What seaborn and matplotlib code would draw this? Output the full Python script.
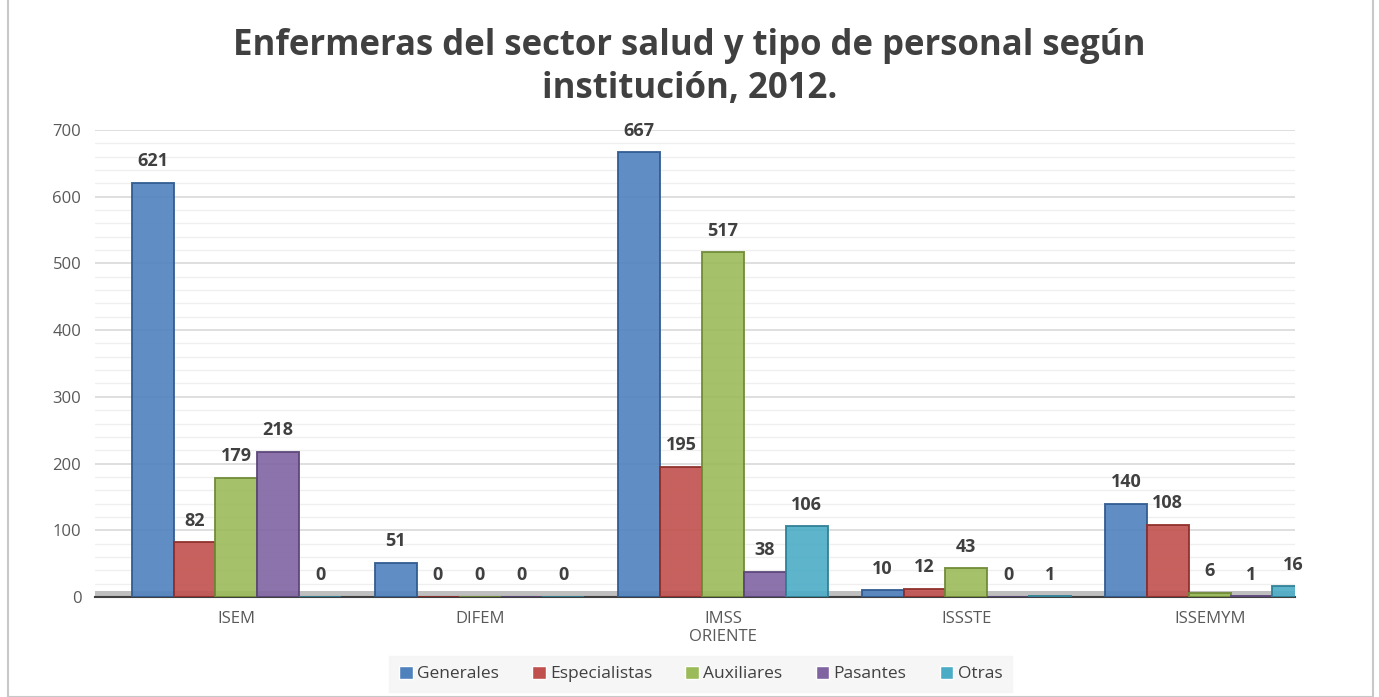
import matplotlib
matplotlib.use("Agg")
import matplotlib.pyplot as plt
import seaborn as sns
import pandas as pd
from matplotlib.patches import Rectangle

categories = ["ISEM", "DIFEM", "IMSS\nORIENTE", "ISSSTE", "ISSEMYM"]
series = ["Generales", "Especialistas", "Auxiliares", "Pasantes", "Otras"]
generales = [621, 51, 667, 10, 140]
especialistas = [82, 0, 195, 12, 108]
auxiliares = [179, 0, 517, 43, 6]
pasantes = [218, 0, 38, 0, 1]
otras = [0, 0, 106, 1, 16]
colors = ["#4F81BD", "#C0504D", "#9BBB59", "#8064A2", "#4BACC6"]
edges = ["#2F5A8F", "#8E2E2B", "#6F8A35", "#5A4578", "#2E7F95"]

values = [generales, especialistas, auxiliares, pasantes, otras]
rows = []
for s, vals in zip(series, values):
    for c, v in zip(categories, vals):
        rows.append({"Institución": c, "Tipo": s, "Valor": v})
df = pd.DataFrame(rows)

sns.set_theme(style="white")
plt.rcParams["font.family"] = ["Open Sans", "DejaVu Sans"]

fig = plt.figure(figsize=(13.79, 6.97), dpi=100)
fig.patch.set_facecolor("white")
ax = fig.add_axes([0.069, 0.1435, 0.870, 0.670])

ax.axhspan(0, 9, color="#bfbfbf", zorder=1, lw=0)

sns.barplot(data=df, x="Institución", y="Valor", hue="Tipo", order=categories,
            hue_order=series, palette=colors, width=0.86, ax=ax, legend=True,
            saturation=1, zorder=3)

for cont, ec in zip(ax.containers, edges):
    for bar in cont:
        bar.set_edgecolor(ec)
        bar.set_linewidth(1.4)
        bar.set_alpha(0.9)
    ax.bar_label(cont, labels=[f"{int(b.get_height())}" for b in cont], padding=9,
                 fontsize=13, fontweight="bold", color="#404040")

ax.set_ylim(0, 700)
ax.set_yticks(range(0, 701, 100))
ax.set_yticks(range(0, 701, 20), minor=True)
ax.grid(axis="y", which="major", color="#d9d9d9", lw=1.2, zorder=0)
ax.grid(axis="y", which="minor", color="#efefef", lw=0.9, zorder=0)
ax.set_axisbelow(True)
for sp in ["top", "right", "left"]:
    ax.spines[sp].set_visible(False)
ax.spines["bottom"].set_color("#404040")
ax.spines["bottom"].set_linewidth(1.5)
ax.tick_params(axis="both", length=0, labelsize=12, colors="#595959", pad=10)
ax.set_xlabel("")
ax.set_ylabel("")
ax.set_xlim(-0.58, 4.35)

leg = ax.legend(loc="lower center", bbox_to_anchor=(0.508, -0.005), bbox_transform=fig.transFigure,
                ncol=5, frameon=True, fontsize=12.5, handlelength=0.8, handleheight=0.8,
                handletextpad=0.25, columnspacing=1.9, borderpad=0.55, fancybox=False)
leg.get_frame().set_facecolor("#f4f4f4")
leg.get_frame().set_edgecolor("#f4f4f4")
for t in leg.get_texts():
    t.set_color("#404040")

fig.text(0.5, 0.903, "Enfermeras del sector salud y tipo de personal según\ninstitución, 2012.",
         ha="center", va="center", fontsize=25, fontweight="bold", color="#404040",
         linespacing=1.25)

fig.patches.append(Rectangle((0.006, 0.0), 0.99, 1.2, transform=fig.transFigure,
                             fill=False, edgecolor="#c8c8c8", lw=1.5))

fig.savefig("out.png", dpi=100)
